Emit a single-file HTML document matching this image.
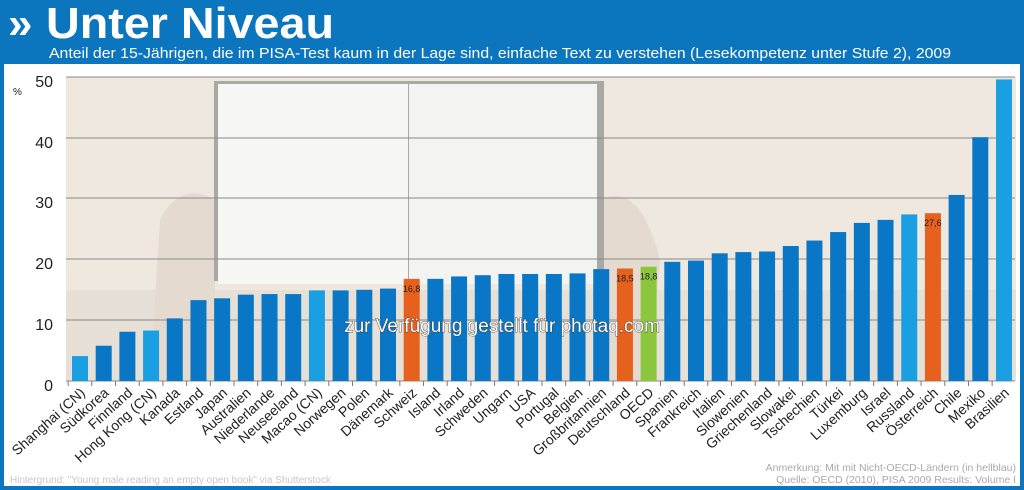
<!DOCTYPE html>
<html><head><meta charset="utf-8"><style>
html,body{margin:0;padding:0;background:#fff}
svg{display:block;font-family:"Liberation Sans",sans-serif}
</style></head><body>
<svg width="1024" height="490" viewBox="0 0 1024 490" xmlns="http://www.w3.org/2000/svg">
<rect x="0" y="0" width="1024" height="490" fill="#0b75bd"/>
<rect x="4" y="64" width="1016" height="422" fill="#ffffff"/>
<text x="8" y="38" font-size="44" font-weight="bold" fill="#fff">»</text>
<text x="46" y="38" font-size="44" font-weight="bold" fill="#fff" textLength="288" lengthAdjust="spacingAndGlyphs">Unter Niveau</text>
<text x="49" y="58" font-size="14.5" fill="#fff" textLength="902" lengthAdjust="spacingAndGlyphs">Anteil der 15-Jährigen, die im PISA-Test kaum in der Lage sind, einfache Text zu verstehen (Lesekompetenz unter Stufe 2), 2009</text>
<!-- background photo approximation -->
<rect x="66" y="77" width="950" height="304" fill="#eee8de"/>
<rect x="66" y="290" width="950" height="91" fill="#e6e0d6"/>
<path d="M150 380 L160 220 Q180 180 215 200 L215 380 Z" fill="#e4dad0"/>
<path d="M600 200 Q640 180 660 260 L650 380 L600 380 Z" fill="#e4dad0"/>
<rect x="214" y="81" width="390" height="200" fill="#a8a8a4"/>
<rect x="218" y="84" width="190" height="200" fill="#f7f7f5"/>
<rect x="409" y="84" width="188" height="200" fill="#f3f3f1"/>
<!-- gridlines -->
<g stroke="#8a8a8a" stroke-width="1">
<line x1="66" y1="77" x2="1015" y2="77"/>
<line x1="66" y1="138" x2="1015" y2="138"/>
<line x1="66" y1="198" x2="1015" y2="198"/>
<line x1="66" y1="259" x2="1015" y2="259"/>
<line x1="66" y1="320" x2="1015" y2="320"/>
<line x1="66" y1="381" x2="1015" y2="381"/>
</g>
<g font-size="16" fill="#222" text-anchor="end">
<text x="53" y="87">50</text><text x="53" y="148">40</text><text x="53" y="208">30</text>
<text x="53" y="269">20</text><text x="53" y="330">10</text><text x="53" y="391">0</text>
</g>
<text x="13" y="95" font-size="10" fill="#222">%</text>
<g id="bars"></g>
<g id="ticks" stroke="#777"></g>
<g id="labels" font-size="14" fill="#222"></g>
<text x="502" y="332" font-size="19" text-anchor="middle" fill="#fff" stroke="#333" stroke-width="0.8" paint-order="stroke">zur Verfügung gestellt für photaq.com</text>
<text x="10" y="483" font-size="10" fill="#c8c8c8">Hintergrund: "Young male reading an empty open book" via Shutterstock</text>
<text x="1016" y="471" font-size="10.5" fill="#aaa" text-anchor="end">Anmerkung: Mit mit Nicht-OECD-Ländern (in hellblau)</text>
<text x="1016" y="483" font-size="10.5" fill="#aaa" text-anchor="end">Quelle: OECD (2010), PISA 2009 Results: Volume I</text>
<script>
var d=[["Shanghai (CN)",4.1,"l"],["Südkorea",5.8],["Finnland",8.1],["Hong Kong (CN)",8.3,"l"],["Kanada",10.3],["Estland",13.3],["Japan",13.6],["Australien",14.2],["Niederlande",14.3],["Neuseeland",14.3],["Macao (CN)",14.9,"l"],["Norwegen",14.9],["Polen",15],["Dänemark",15.2],["Schweiz",16.8,"o"],["Island",16.8],["Irland",17.2],["Schweden",17.4],["Ungarn",17.6],["USA",17.6],["Portugal",17.6],["Belgien",17.7],["Großbritannien",18.4],["Deutschland",18.5,"o"],["OECD",18.8,"g"],["Spanien",19.6],["Frankreich",19.8],["Italien",21],["Slowenien",21.2],["Griechenland",21.3],["Slowakei",22.2],["Tschechien",23.1],["Türkei",24.5],["Luxemburg",26],["Israel",26.5],["Russland",27.4,"l"],["Österreich",27.6,"o"],["Chile",30.6],["Mexiko",40.1],["Brasilien",49.6,"l"]];
var col={d:"#0a77c6",l:"#1a9fe3",o:"#e6601e",g:"#8cc63f"};
var ns="http://www.w3.org/2000/svg",b=document.getElementById("bars"),t=document.getElementById("ticks"),L=document.getElementById("labels");
function el(p,n,a,txt){var e=document.createElementNS(ns,n);for(var k in a)e.setAttribute(k,a[k]);if(txt)e.textContent=txt;p.appendChild(e);return e;}
var s=(1004-80)/39;
d.forEach(function(r,i){var cx=80+i*s,h=r[1]*6.08,y=381-h;
el(b,"rect",{x:cx-8,y:y,width:16,height:h,fill:col[r[2]||"d"]});
el(t,"line",{x1:cx-s/2,y1:381,x2:cx-s/2,y2:386});
el(L,"text",{x:cx+6,y:394,"text-anchor":"end",transform:"rotate(-42 "+(cx+6)+" 394)"},r[0]);
if(r[2]=="o"||r[2]=="g")el(b,"text",{x:cx,y:y+13,"font-size":"9","text-anchor":"middle",fill:"#222"},String(r[1]).replace(".",","));
});
</script>
</svg>
</body></html>
